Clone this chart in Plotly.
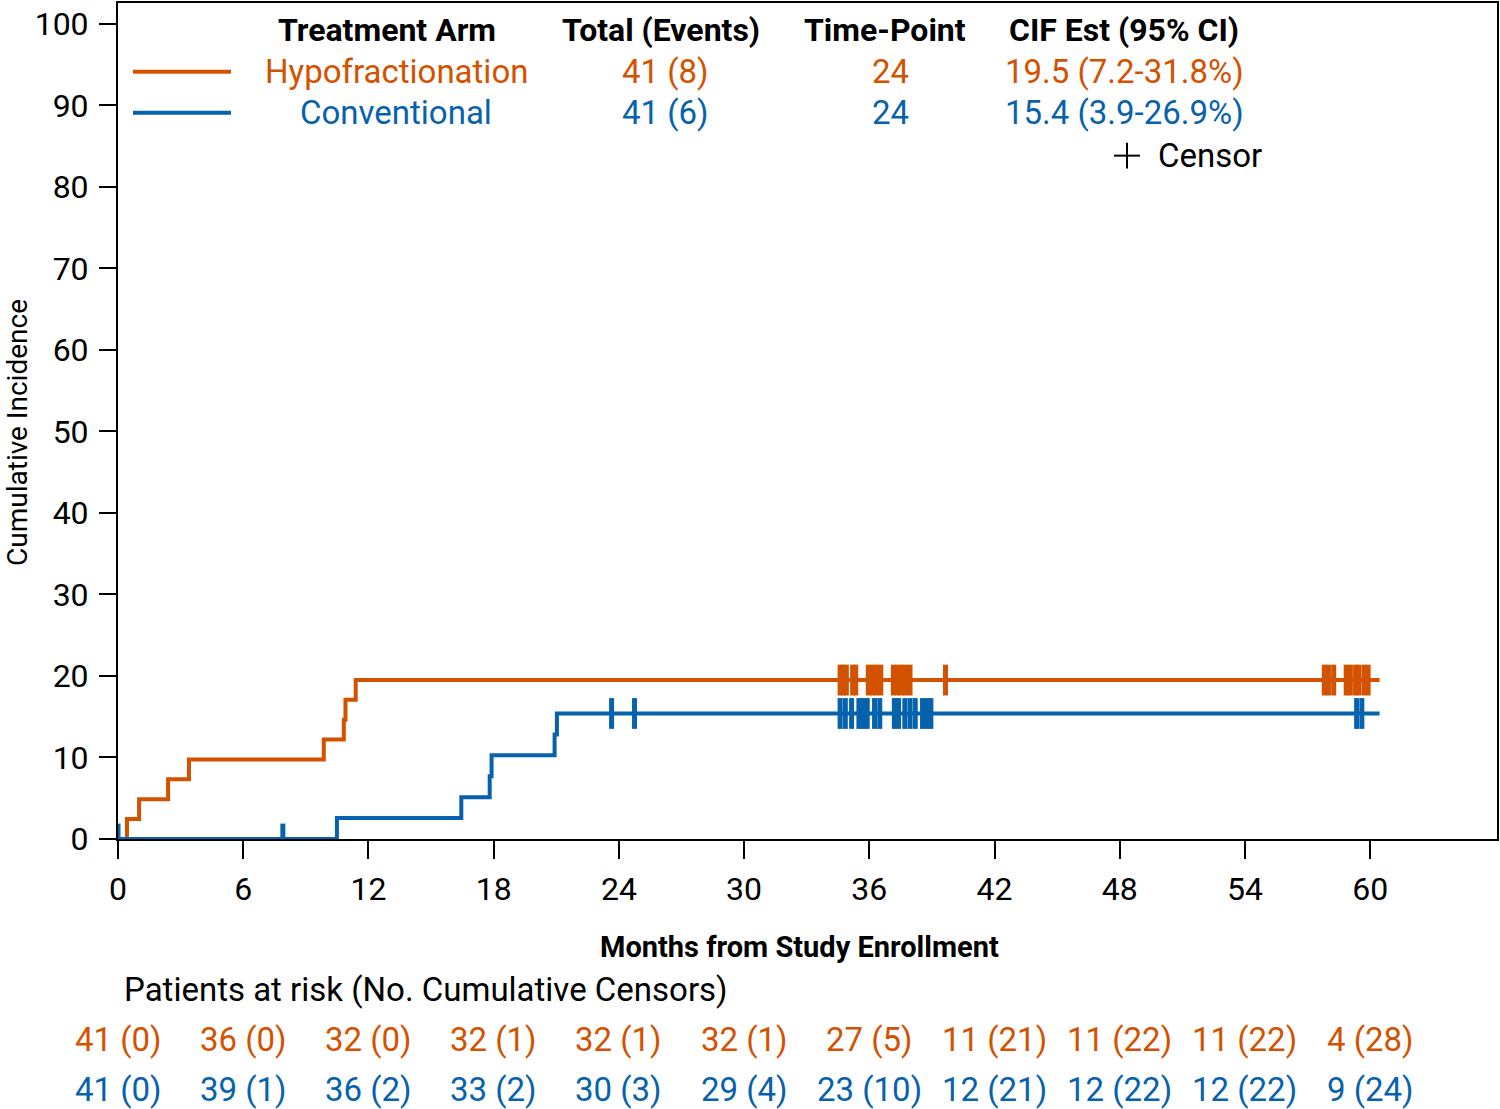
import numpy as np
import plotly.graph_objects as go

# ---------------- data ----------------
month_ticks = [0, 6, 12, 18, 24, 30, 36, 42, 48, 54, 60]
y_ticks = [0, 10, 20, 30, 40, 50, 60, 70, 80, 90, 100]

hypo_t = [0, 0.43, 1.01, 2.40, 3.40, 9.86, 10.82, 10.90, 11.39, 60.45]
hypo_cif = [0, 2.44, 4.88, 7.32, 9.76, 12.20, 14.63, 17.07, 19.50, 19.50]
conv_t = [0, 10.49, 16.45, 17.81, 17.90, 20.92, 21.03, 60.45]
conv_cif = [0, 2.57, 5.13, 7.70, 10.27, 12.83, 15.40, 15.40]

hypo_censor = [34.6, 34.75, 34.9, 35.2, 35.35, 35.95, 36.15, 36.35, 36.55,
               37.15, 37.35, 37.55, 37.75, 37.95, 39.65,
               57.8, 58.0, 58.25, 58.85, 59.05, 59.3, 59.45, 59.7, 59.9]
conv_censor = [0, 7.9, 23.65, 24.75, 34.6, 34.85, 35.15, 35.5, 35.7, 35.9,
               36.25, 36.5, 37.2, 37.4, 37.7, 37.95, 38.2, 38.55, 38.75, 38.95,
               59.35, 59.6]

hypo_risk = ["41 (0)", "36 (0)", "32 (0)", "32 (1)", "32 (1)", "32 (1)",
             "27 (5)", "11 (21)", "11 (22)", "11 (22)", "4 (28)"]
conv_risk = ["41 (0)", "39 (1)", "36 (2)", "33 (2)", "30 (3)", "29 (4)",
             "23 (10)", "12 (21)", "12 (22)", "12 (22)", "9 (24)"]

headers = ["Treatment Arm", "Total (Events)", "Time-Point", "CIF Est (95% CI)"]
arms = ["Hypofractionation", "Conventional"]
totals = ["41 (8)", "41 (6)"]
timepoints = ["24", "24"]
cif_est = ["19.5 (7.2-31.8%)", "15.4 (3.9-26.9%)"]

# ---------------- style ----------------
ORANGE = "#D35200"
BLUE = "#0762AD"
FONT = "Roboto"
W, H = 1500, 1109
L, R, T, B = 118, 3, 1, 270
PW, PH = W - L - R, H - T - B


def px_x(p):
    return (p - L) / PW


def px_y(p):
    return (T + PH - p) / PH


def step_value(times, vals, t):
    idx = np.searchsorted(np.array(times), t, side="right") - 1
    return [vals[i] for i in idx]


fig = go.Figure()

fig.add_trace(go.Scatter(x=hypo_t, y=hypo_cif, mode="lines", line_shape="hv",
                         line=dict(color=ORANGE, width=4), showlegend=False))
fig.add_trace(go.Scatter(x=conv_t, y=conv_cif, mode="lines", line_shape="hv",
                         line=dict(color=BLUE, width=4), showlegend=False))

fig.add_trace(go.Scatter(x=hypo_censor, y=step_value(hypo_t, hypo_cif, hypo_censor),
                         mode="markers", showlegend=False,
                         marker=dict(symbol="line-ns", size=22,
                                     line=dict(color=ORANGE, width=5))))
fig.add_trace(go.Scatter(x=conv_censor, y=step_value(conv_t, conv_cif, conv_censor),
                         mode="markers", showlegend=False,
                         marker=dict(symbol="line-ns", size=22,
                                     line=dict(color=BLUE, width=5))))

ann = []
# legend table header
hdr_x = [387, 661, 885, 1124]
for h, xx in zip(headers, hdr_x):
    ann.append(dict(text=h, x=px_x(xx), y=px_y(28), xref="paper", yref="paper",
                    showarrow=False, xanchor="center", yanchor="middle",
                    font=dict(family=FONT, size=32, color="black", weight="bold")))
rows_y = [70, 111]
colors = [ORANGE, BLUE]
col_x = [396, 665, 890, 1124]
for i in range(2):
    for txt, xx in zip([arms[i], totals[i], timepoints[i], cif_est[i]], col_x):
        ann.append(dict(text=txt, x=px_x(xx), y=px_y(rows_y[i]), xref="paper",
                        yref="paper", showarrow=False, xanchor="center",
                        yanchor="middle",
                        font=dict(family=FONT, size=33, color=colors[i])))
ann.append(dict(text="Censor", x=px_x(1156), y=px_y(154), xref="paper", yref="paper",
                showarrow=False, xanchor="left", yanchor="middle",
                font=dict(family=FONT, size=33, color="black")))

# axis titles
ann.append(dict(text="Months from Study Enrollment", x=px_x(799), y=px_y(947),
                xref="paper", yref="paper", showarrow=False, xanchor="center",
                yanchor="middle",
                font=dict(family=FONT, size=29, color="black", weight="bold")))
ann.append(dict(text="Cumulative Incidence", x=px_x(18), y=px_y(432),
                xref="paper", yref="paper", showarrow=False, xanchor="center",
                yanchor="middle", textangle=-90,
                font=dict(family=FONT, size=28, color="black")))

# at-risk table
ann.append(dict(text="Patients at risk (No. Cumulative Censors)", x=px_x(122),
                y=px_y(990), xref="paper", yref="paper", showarrow=False,
                xanchor="left", yanchor="middle",
                font=dict(family=FONT, size=33, color="black")))
for m, a, b in zip(month_ticks, hypo_risk, conv_risk):
    ann.append(dict(text=a, x=m, y=px_y(1040), xref="x", yref="paper",
                    showarrow=False, xanchor="center", yanchor="middle",
                    font=dict(family=FONT, size=33, color=ORANGE)))
    ann.append(dict(text=b, x=m, y=px_y(1090), xref="x", yref="paper",
                    showarrow=False, xanchor="center", yanchor="middle",
                    font=dict(family=FONT, size=33, color=BLUE)))

shapes = [
    dict(type="line", xref="paper", yref="paper", x0=px_x(133), x1=px_x(231),
         y0=px_y(70), y1=px_y(70), line=dict(color=ORANGE, width=4)),
    dict(type="line", xref="paper", yref="paper", x0=px_x(133), x1=px_x(231),
         y0=px_y(111), y1=px_y(111), line=dict(color=BLUE, width=4)),
    dict(type="line", xref="paper", yref="paper", x0=px_x(1114), x1=px_x(1140),
         y0=px_y(154), y1=px_y(154), line=dict(color="black", width=2)),
    dict(type="line", xref="paper", yref="paper", x0=px_x(1127), x1=px_x(1127),
         y0=px_y(141), y1=px_y(167), line=dict(color="black", width=2)),
]

fig.update_layout(
    width=W, height=H,
    margin=dict(l=L, r=R, t=T, b=B),
    paper_bgcolor="white", plot_bgcolor="white",
    annotations=ann, shapes=shapes,
    xaxis=dict(range=[0, PW / 20.87], tickvals=month_ticks,
               ticktext=[str(m) for m in month_ticks],
               showgrid=False, zeroline=False, showline=True, linecolor="black",
               linewidth=2, mirror=True, ticks="outside", ticklen=18, tickwidth=2,
               tickcolor="black", ticklabelstandoff=3,
               tickfont=dict(family=FONT, size=32, color="black")),
    yaxis=dict(range=[0, PH / 8.17], tickvals=y_ticks,
               showgrid=False, zeroline=False, showline=True, linecolor="black",
               linewidth=2, mirror=True, ticks="outside", ticklen=17, tickwidth=2,
               tickcolor="black", ticklabelstandoff=4,
               tickfont=dict(family=FONT, size=32, color="black")),
)

fig.write_html("out.html", config={"displayModeBar": False},
               post_script="document.body.style.margin='0px';document.body.style.padding='0px';")
